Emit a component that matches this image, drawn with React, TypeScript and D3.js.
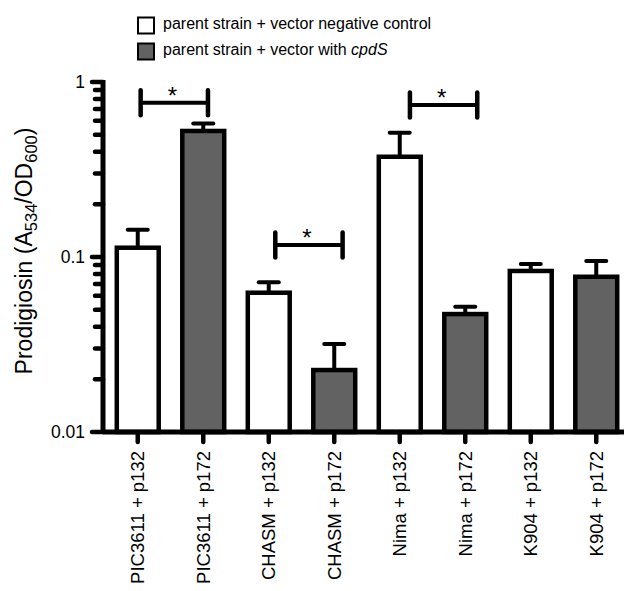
import React from "react";
import * as d3 from "d3";

const categories = [
  "PIC3611 + p132",
  "PIC3611 + p172",
  "CHASM + p132",
  "CHASM + p172",
  "Nima + p132",
  "Nima + p172",
  "K904 + p132",
  "K904 + p172",
];
const seriesOf = ["control", "cpdS", "control", "cpdS", "control", "cpdS", "control", "cpdS"];
const values = [0.113, 0.525, 0.0625, 0.0226, 0.374, 0.0472, 0.0832, 0.0771];
const errorUpper = [0.143, 0.58, 0.0717, 0.0318, 0.513, 0.052, 0.0912, 0.0949];

const legendLabels = ["parent strain + vector negative control", "parent strain + vector with "];
const legendItalic = ["", "cpdS"];
const legendSeries = ["control", "cpdS"];

const sigFrom = [0, 2, 4];
const sigTo = [1, 3, 5];
const sigLevel = [0.76, 0.117, 0.739];
const sigMark = ["*", "*", "*"];

const yTickValues = [1, 0.1, 0.01];
const yTickLabels = ["1", "0.1", "0.01"];

const W = 624;
const H = 591;
const FONT = "'Liberation Sans', Arial, Helvetica, sans-serif";
const GRAY = "#626262";

export default function App() {
  const x = d3
    .scaleBand<string>()
    .domain(categories)
    .range([105, 629])
    .paddingInner(0.36)
    .paddingOuter(0.18);
  const y = d3.scaleLog().domain([0.01, 1]).range([432, 82]);
  const center = (i: number) => (x(categories[i]) as number) + x.bandwidth() / 2;
  // annotation layer is slightly stretched relative to bars
  const ax = d3.scaleLinear().domain([137.8, 465.3]).range([140.7, 477.3]);

  const axisX = 103;
  const minorTicks: number[] = [];
  [0.01, 0.1].forEach((dec) => {
    for (let k = 2; k <= 9; k++) minorTicks.push(dec * k);
  });

  const color = (s: string) => (s === "cpdS" ? GRAY : "#ffffff");

  return (
    <svg
      width={W}
      height={H}
      style={{ position: "absolute", left: 0, top: 0, background: "#fff" }}
      fontFamily={FONT}
    >
      <rect x={0} y={0} width={W} height={H} fill="#fff" />
      {/* legend */}
      {legendSeries.map((s, i) => (
        <g key={s}>
          <rect
            x={138}
            y={17.5 + i * 26}
            width={16}
            height={16}
            fill={color(s)}
            stroke="#000"
            strokeWidth={2}
          />
          <text x={163} y={28.5 + i * 26.5} fontSize={16} fill="#000">
            {legendLabels[i]}
            {legendItalic[i] && <tspan fontStyle="italic">{legendItalic[i]}</tspan>}
          </text>
        </g>
      ))}

      {/* bars */}
      {categories.map((c, i) => {
        const cx = center(i);
        const top = y(values[i]);
        const et = y(errorUpper[i]);
        return (
          <g key={c}>
            <line x1={cx} x2={cx} y1={top} y2={et} stroke="#000" strokeWidth={4} />
            <line x1={cx - 10} x2={cx + 10} y1={et} y2={et} stroke="#000" strokeWidth={4} strokeLinecap="round" />
            <rect
              x={x(c) as number}
              y={top}
              width={x.bandwidth()}
              height={y(0.01) - top}
              fill={color(seriesOf[i])}
              stroke="#000"
              strokeWidth={4.5}
            />
          </g>
        );
      })}

      {/* y axis */}
      <line x1={axisX} x2={axisX} y1={y(1) - 2} y2={y(0.01)} stroke="#000" strokeWidth={5} />
      {yTickValues.map((v, i) => (
        <g key={v}>
          <line x1={92} x2={axisX} y1={y(v)} y2={y(v)} stroke="#000" strokeWidth={4.5} strokeLinecap="round" />
          <text
            x={85}
            y={y(v)}
            dy="0.35em"
            textAnchor="end"
            fontSize={17.5}
            fill="#000"
          >
            {yTickLabels[i]}
          </text>
        </g>
      ))}
      {minorTicks.map((v) => (
        <line key={v} x1={95} x2={axisX} y1={y(v)} y2={y(v)} stroke="#000" strokeWidth={4.5} strokeLinecap="round" />
      ))}

      {/* x axis */}
      <line x1={axisX} x2={W} y1={y(0.01)} y2={y(0.01)} stroke="#000" strokeWidth={5} />
      {categories.map((c, i) => {
        const cx = center(i);
        return (
          <g key={c}>
            <line x1={cx} x2={cx} y1={y(0.01)} y2={442} stroke="#000" strokeWidth={4.5} strokeLinecap="round" />
            <text
              x={cx}
              y={451}
              dy="0.35em"
              textAnchor="end"
              fontSize={18.5}
              fill="#000"
              transform={`rotate(-90, ${cx}, 451)`}
            >
              {c}
            </text>
          </g>
        );
      })}

      {/* y label */}
      <text
        x={31.5}
        y={251}
        textAnchor="middle"
        fontSize={23}
        fill="#000"
        transform="rotate(-90, 31.5, 251)"
      >
        Prodigiosin (A
        <tspan fontSize={16.5} dy={5}>534</tspan>
        <tspan dy={-5}>/OD</tspan>
        <tspan fontSize={16.5} dy={5}>600</tspan>
        <tspan dy={-5}>)</tspan>
      </text>

      {/* significance brackets */}
      {sigFrom.map((f, i) => {
        const x1 = ax(center(f));
        const x2 = ax(center(sigTo[i]));
        const yy = y(sigLevel[i]);
        return (
          <g key={i}>
            <line x1={x1} x2={x2} y1={yy} y2={yy} stroke="#000" strokeWidth={4} />
            <line x1={x1} x2={x1} y1={yy - 12.5} y2={yy + 12.5} stroke="#000" strokeWidth={4.5} strokeLinecap="round" />
            <line x1={x2} x2={x2} y1={yy - 12.5} y2={yy + 12.5} stroke="#000" strokeWidth={4.5} strokeLinecap="round" />
            <text x={(x1 + x2) / 2 - 2} y={yy + 1} textAnchor="middle" fontSize={24} fill="#000">
              {sigMark[i]}
            </text>
          </g>
        );
      })}
    </svg>
  );
}
